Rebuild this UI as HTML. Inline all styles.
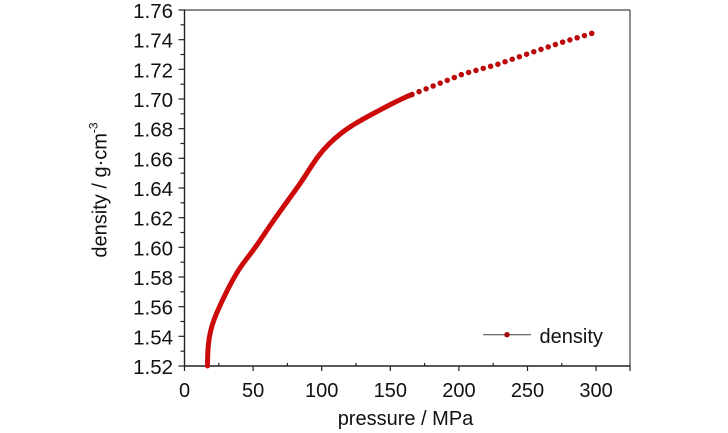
<!DOCTYPE html>
<html><head><meta charset="utf-8"><style>
html,body{margin:0;padding:0;background:#fff;}
svg{display:block;}
text{font-family:"Liberation Sans",Arial,sans-serif;fill:#111;}
</style></head><body>
<svg width="728" height="433" viewBox="0 0 728 433" xmlns="http://www.w3.org/2000/svg">
<rect width="728" height="433" fill="#fff"/>
<!-- frame -->
<line x1="184.5" y1="10" x2="630" y2="10" stroke="#444" stroke-width="1.2"/>
<line x1="630" y1="10" x2="630" y2="366" stroke="#444" stroke-width="1.2"/>
<line x1="184.5" y1="9.5" x2="184.5" y2="366.5" stroke="#222" stroke-width="1.4"/>
<line x1="184" y1="366" x2="630.5" y2="366" stroke="#222" stroke-width="1.4"/>
<!-- y ticks -->
<g stroke="#222" stroke-width="1.2">
<line x1="178.5" y1="10" x2="184.5" y2="10"/><line x1="180.5" y1="24.8" x2="184.5" y2="24.8"/>
<line x1="178.5" y1="39.7" x2="184.5" y2="39.7"/><line x1="180.5" y1="54.5" x2="184.5" y2="54.5"/>
<line x1="178.5" y1="69.3" x2="184.5" y2="69.3"/><line x1="180.5" y1="84.2" x2="184.5" y2="84.2"/>
<line x1="178.5" y1="99" x2="184.5" y2="99"/><line x1="180.5" y1="113.8" x2="184.5" y2="113.8"/>
<line x1="178.5" y1="128.7" x2="184.5" y2="128.7"/><line x1="180.5" y1="143.5" x2="184.5" y2="143.5"/>
<line x1="178.5" y1="158.3" x2="184.5" y2="158.3"/><line x1="180.5" y1="173.2" x2="184.5" y2="173.2"/>
<line x1="178.5" y1="188" x2="184.5" y2="188"/><line x1="180.5" y1="202.8" x2="184.5" y2="202.8"/>
<line x1="178.5" y1="217.7" x2="184.5" y2="217.7"/><line x1="180.5" y1="232.5" x2="184.5" y2="232.5"/>
<line x1="178.5" y1="247.3" x2="184.5" y2="247.3"/><line x1="180.5" y1="262.2" x2="184.5" y2="262.2"/>
<line x1="178.5" y1="277" x2="184.5" y2="277"/><line x1="180.5" y1="291.8" x2="184.5" y2="291.8"/>
<line x1="178.5" y1="306.7" x2="184.5" y2="306.7"/><line x1="180.5" y1="321.5" x2="184.5" y2="321.5"/>
<line x1="178.5" y1="336.3" x2="184.5" y2="336.3"/><line x1="180.5" y1="351.2" x2="184.5" y2="351.2"/>
<line x1="178.5" y1="366" x2="184.5" y2="366"/>
</g>
<!-- x ticks -->
<g stroke="#222" stroke-width="1.2">
<line x1="184.5" y1="366" x2="184.5" y2="371"/><line x1="218.8" y1="366" x2="218.8" y2="363"/>
<line x1="253.1" y1="366" x2="253.1" y2="371"/><line x1="287.4" y1="366" x2="287.4" y2="363"/>
<line x1="321.7" y1="366" x2="321.7" y2="371"/><line x1="356" y1="366" x2="356" y2="363"/>
<line x1="390.3" y1="366" x2="390.3" y2="371"/><line x1="424.6" y1="366" x2="424.6" y2="363"/>
<line x1="458.9" y1="366" x2="458.9" y2="371"/><line x1="493.2" y1="366" x2="493.2" y2="363"/>
<line x1="527.5" y1="366" x2="527.5" y2="371"/><line x1="561.8" y1="366" x2="561.8" y2="363"/>
<line x1="596.1" y1="366" x2="596.1" y2="371"/><line x1="630" y1="366" x2="630" y2="371"/>
</g>
<!-- y labels -->
<g font-size="20.5" text-anchor="end">
<text x="173" y="18">1.76</text>
<text x="173" y="47.7">1.74</text>
<text x="173" y="77.3">1.72</text>
<text x="173" y="107">1.70</text>
<text x="173" y="136.7">1.68</text>
<text x="173" y="166.3">1.66</text>
<text x="173" y="196">1.64</text>
<text x="173" y="225.7">1.62</text>
<text x="173" y="255.3">1.60</text>
<text x="173" y="285">1.58</text>
<text x="173" y="314.7">1.56</text>
<text x="173" y="344.3">1.54</text>
<text x="173" y="374">1.52</text>
</g>
<!-- x labels -->
<g font-size="20" text-anchor="middle">
<text x="184.5" y="397">0</text>
<text x="253.1" y="397">50</text>
<text x="321.7" y="397">100</text>
<text x="390.3" y="397">150</text>
<text x="458.9" y="397">200</text>
<text x="527.5" y="397">250</text>
<text x="596.1" y="397">300</text>
</g>
<!-- axis titles -->
<text x="405.5" y="425" font-size="20" text-anchor="middle">pressure / MPa</text>
<text transform="translate(106.5,190) rotate(-90)" font-size="20" text-anchor="middle">density / g·cm<tspan font-size="12" dy="-9">-3</tspan></text>
<!-- data curve: dense part -->
<path d="M207.5,366 L207.6,359 Q207.7,352 208.35,345 Q209,338 210.5,331.5 Q212,325 214.5,318.5 Q217,312 220.5,304.5 Q224,297 228,289 Q232,281 236.5,273.5 Q241,266 248,257 Q255,248 260,240.5 Q265,233 270.5,225 Q276,217 282.5,208 Q289,199 295.5,190 Q302,181 307,173 Q312,165 317,158 Q322,151 328.5,144.5 Q335,138 341.5,133 Q348,128 355.5,123.5 Q363,119 371.5,114.5 Q380,110 388.5,105.5 Q397,101 407,96.5 L412,94.5"
 fill="none" stroke="#cc0a0a" stroke-width="5" stroke-linecap="round" stroke-linejoin="round"/>
<!-- sparse dotted part -->
<path d="M412,94.5 L463,74 L497,64.5 L530,53 L563,42 L593,33"
 fill="none" stroke="#bb0808" stroke-width="5.5" stroke-linecap="round" stroke-dasharray="0 7.6"/>
<!-- legend -->
<line x1="483" y1="334.7" x2="531" y2="334.7" stroke="#555" stroke-width="1.2"/>
<circle cx="507" cy="334.7" r="2.7" fill="#a80a10"/>
<text x="539.5" y="343" font-size="20">density</text>
</svg>
</body></html>
